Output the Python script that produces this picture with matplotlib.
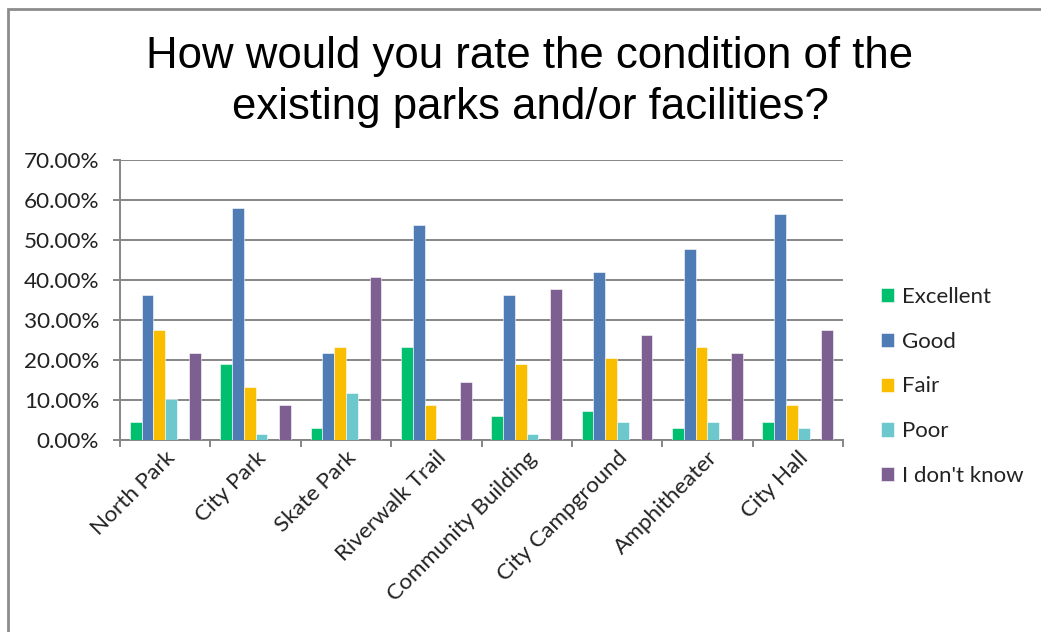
import numpy as np
import matplotlib
matplotlib.use('Agg')
import matplotlib.pyplot as plt
from matplotlib.patches import Rectangle
from matplotlib.ticker import FuncFormatter

# Survey data (percent of respondents)
parks = ['North Park', 'City Park', 'Skate Park', 'Riverwalk Trail',
         'Community Building', 'City Campground', 'Amphitheater', 'City Hall']
excellent = [4.35, 18.84, 2.90, 23.19, 5.80, 7.25, 2.90, 4.35]
good = [36.23, 57.97, 21.74, 53.62, 36.23, 42.03, 47.83, 56.52]
fair = [27.54, 13.04, 23.19, 8.70, 18.84, 20.29, 23.19, 8.70]
poor = [10.14, 1.45, 11.59, 0.0, 1.45, 4.35, 4.35, 2.90]
dont_know = [21.74, 8.70, 40.58, 14.49, 37.68, 26.09, 21.74, 27.54]

series_names = ['Excellent', 'Good', 'Fair', 'Poor', "I don't know"]
colors = ['#00BF6F', '#4F7CB5', '#F9BE00', '#6CC8CC', '#7D5F91']
# slot within the cluster (slot 4 is an empty series in the original)
slots = [0, 1, 2, 3, 5]

plt.rcParams['font.family'] = ['Lato', 'DejaVu Sans']
GRID = '#868686'
TXT = '#222222'

fig = plt.figure(figsize=(10.41, 6.32), dpi=100)
fig.patches.append(Rectangle((8 / 1041, -0.1), 1.2, 1.1 - 9 / 632,
                             transform=fig.transFigure, fill=False,
                             edgecolor='#8C8C8C', linewidth=2, zorder=0))

ax = fig.add_axes([120 / 1041, 192.5 / 632, 723 / 1041, 279.5 / 632])

x = np.arange(len(parks))
bw = 0.1305
values = [excellent, good, fair, poor, dont_know]
for vals, name, col, s in zip(values, series_names, colors, slots):
    ax.bar(x + (s - 2.5) * bw, vals, width=bw, color=col, label=name,
           edgecolor='white', linewidth=0.4, zorder=3)

ax.set_xlim(-0.5, len(parks) - 0.5)
ax.set_ylim(0, 70)
ax.set_yticks(np.arange(0, 71, 10))
ax.yaxis.set_major_formatter(FuncFormatter(lambda v, p: f'{v:.2f}%'))
ax.grid(axis='y', color=GRID, linewidth=1.4, zorder=0)

# category boundaries as x ticks, labels at centers
ax.set_xticks(np.arange(-0.5, len(parks)), minor=False)
ax.set_xticklabels([])
ax.set_xticks(x, minor=True)
ax.set_xticklabels(parks, minor=True, rotation=45, ha='right', va='top',
                   rotation_mode='anchor', fontsize=16.2, color=TXT)
ax.tick_params(axis='x', which='minor', length=0, pad=6)
ax.tick_params(axis='x', which='major', length=5, width=1.4, color=GRID)
ax.tick_params(axis='y', length=5, width=1.4, color=GRID, pad=10,
               labelsize=16.2, labelcolor=TXT)

for side in ['top', 'right']:
    ax.spines[side].set_visible(False)
for side in ['left', 'bottom']:
    ax.spines[side].set_color(GRID)
    ax.spines[side].set_linewidth(1.4)

title_lines = ['How would you rate the condition of the',
               'existing parks and/or facilities?']
for line, ypix in zip(title_lines, [68, 119]):
    fig.text(530 / 1041, 1 - ypix / 632, line, ha='center', va='baseline',
             fontsize=31.5, family='Liberation Sans', color='black')

leg = ax.legend(loc='center left', bbox_to_anchor=(1.04, 0.19), frameon=False,
                fontsize=16, handlelength=0.6, handleheight=0.6,
                handletextpad=0.35, labelspacing=1.12, borderaxespad=0)
for t in leg.get_texts():
    t.set_color(TXT)

fig.savefig('out.png', dpi=100)
